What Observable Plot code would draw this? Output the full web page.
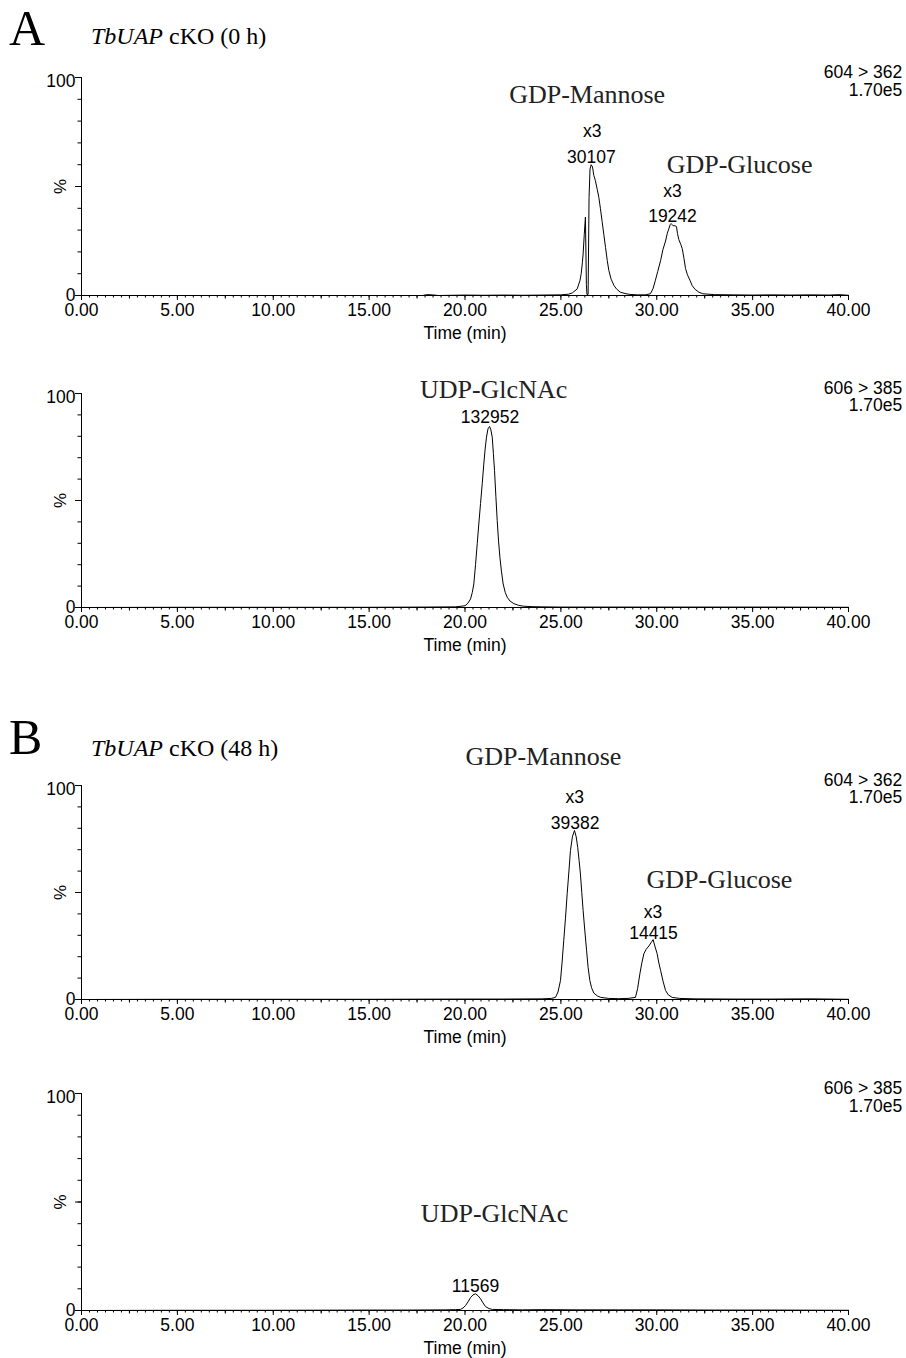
<!DOCTYPE html>
<html><head><meta charset="utf-8">
<script src="https://cdn.jsdelivr.net/npm/d3@7"></script>
<script src="https://cdn.jsdelivr.net/npm/@observablehq/plot@0.6"></script>
<style>
body{margin:0;background:#fff;}
#root{position:relative;width:906px;height:1358px;overflow:hidden;}
.lbl{position:absolute;font-family:"Liberation Serif",serif;color:#000;line-height:1;white-space:nowrap;}
svg{position:absolute;left:0;}
</style></head><body><div id="root"></div>
<script>
// ---------- data ----------
// Panel A, 604 > 362 (0 h)
const timeA1 = [0,5,10,15,17.8,18.0,18.3,18.6,20,21,22,23,24,25,25.4,25.6,25.85,26.0,26.06,26.12,26.16,26.22,26.28,26.33,26.36,26.42,26.47,26.52,26.58,26.65,26.72,26.8,26.9,26.98,27.06,27.15,27.24,27.33,27.42,27.5,27.62,27.77,27.9,28.1,28.4,28.6,29.0,29.4,29.67,29.8,29.93,30.05,30.2,30.32,30.46,30.55,30.63,30.7,30.75,30.8,30.85,30.95,31.03,31.08,31.15,31.25,31.33,31.42,31.5,31.6,31.73,31.85,32.0,32.2,32.4,33,34,35,36,37,38,39,39.5,40];
const pctA1  = [0,0,0,0,0,0.4,0.3,0,0.2,0.1,0.2,0.1,0.2,0.3,0.6,1.2,3,7,10,15,19,28,36,5,0.5,0.5,45,58,60,59,55,52.7,48.5,45,40,34,28,22,16,11.5,7.5,4.6,3,1.5,0.8,0.5,0.3,0.3,0.8,3,7,11,16,21,25,28.5,30.6,32.5,33,32.5,32,32,31.6,28.5,25.7,23.5,21.5,17,12.4,9.5,7,4.5,2.8,1.5,0.8,0.4,0.3,0.2,0.3,0.2,0.3,0.2,0.4,0.1];
// Panel A, 606 > 385 (0 h)
const timeA2 = [0,5,10,15,18,19.5,20.0,20.15,20.29,20.38,20.46,20.55,20.64,20.72,20.81,20.9,20.98,21.05,21.12,21.2,21.28,21.35,21.42,21.48,21.54,21.61,21.68,21.75,21.82,21.9,21.99,22.1,22.2,22.35,22.55,22.8,23.06,23.5,24,25,27,30,33,36,40];
const pctA2  = [0,0.1,0.1,0.1,0.2,0.3,0.8,2,4,7,11,20,30,39,48.6,58,67,74,79.6,83.5,84.6,83,79.6,72,64,52,40.6,31,23.5,17,11,7,4.8,3,1.8,1,0.6,0.4,0.3,0.2,0.2,0.2,0.2,0.2,0.1];
// Panel B, 604 > 362 (48 h)
const timeB1 = [0,5,10,15,20,22,24,24.5,24.72,24.85,24.98,25.06,25.15,25.24,25.33,25.42,25.5,25.6,25.71,25.8,25.88,25.95,26.02,26.09,26.16,26.25,26.34,26.42,26.51,26.6,26.72,26.9,27.07,27.5,28,28.5,28.89,29.0,29.12,29.22,29.33,29.45,29.59,29.7,29.81,29.9,30.02,30.1,30.2,30.33,30.46,30.6,30.8,31.2,32,34,36,38,39,40];
const pctB1  = [0,0.1,0.1,0.1,0.2,0.2,0.3,0.5,1,3.5,8.9,17,27.6,38,49.5,60,69.6,76,79,76,71,65,58.7,50,41.6,32,23,15,8.9,5.5,3,1.7,1,0.5,0.4,0.5,1,5,12,17,21.4,23.5,25,26.5,28,25,21.4,17.5,13.6,8.5,4.2,2.2,1,0.5,0.3,0.2,0.2,0.3,0.2,0.1];
// Panel B, 606 > 385 (48 h)
const timeB2 = [0,5,10,15,17,19,19.5,19.77,19.9,20.03,20.16,20.29,20.42,20.55,20.68,20.81,20.94,21.07,21.25,21.42,22,23,24,26,28,30,33,36,40];
const pctB2  = [0,0.1,0.1,0.2,0.2,0.3,0.4,0.5,1.2,2.3,4,6,7.2,7.7,6.8,5.4,3.5,1.8,0.9,0.5,0.4,0.3,0.4,0.3,0.3,0.3,0.2,0.2,0.1];

// annotation labels (text, time, percent of baseline position, serif?)
const textA1 = ["GDP-Mannose","x3","30107","GDP-Glucose","x3","19242"];
const tA1 = [26.37,26.64,26.59,34.32,30.82,30.82];
const yA1 = [88.1,72.5,60.7,56,45.4,33.6];
const serifA1 = [1,0,0,1,0,0];

const textA2 = ["UDP-GlcNAc","132952"];
const tA2 = [21.49,21.3];
const yA2 = [97.7,86.0];
const serifA2 = [1,0];

const textB1 = ["GDP-Mannose","x3","39382","GDP-Glucose","x3","14415"];
const tB1 = [24.09,25.72,25.74,33.27,29.8,29.83];
const yB1 = [109.8,91.6,79.9,52.3,37.9,28.5];
const serifB1 = [1,0,0,1,0,0];

const textB2 = ["UDP-GlcNAc","11569"];
const tB2 = [21.54,20.55];
const yB2 = [40.6,8.4];
const serifB2 = [1,0];

const channel1 = ["604 > 362","1.70e5"];
const channel2 = ["606 > 385","1.70e5"];
const channelT = [42.8,42.8];
const channelY = [100,91.7];

const majorTicks = [0,5,10,15,20,25,30,35,40];
const yTickLabels = [0,100];
const xLabel = "Time (min)";
const yLabel = "%";

// ---------- drawing ----------
const root = document.getElementById("root");
const sans = "Liberation Sans, Arial, sans-serif";
const serif = "Liberation Serif, Times New Roman, serif";
const minorTicks = d3.range(0,97).map(i => i*5/12);
const midTicks = d3.range(0,8).map(i => 2.5 + i*5);
const yMinor = d3.range(0,11).map(i => i*10);
const yMajor = [0,50,100];

function panel(times, pcts, texts, ts, ys, serifs, channel, y100, y0) {
  const mt = 62, mb = 52;
  const series = times.map((t,i) => ({t, p: pcts[i]}));
  const ann = texts.map((s,i) => ({s, t: ts[i], y: ys[i], serif: serifs[i]}));
  const ch = channel.map((s,i) => ({s, t: channelT[i], y: channelY[i]}));
  const svg = Plot.plot({
    width: 906,
    height: mt + (y0 - y100) + mb,
    marginLeft: 81, marginRight: 58, marginTop: mt, marginBottom: mb,
    style: {background: "transparent", overflow: "visible", fontFamily: sans, color: "black"},
    x: {domain: [0,40], label: null},
    y: {domain: [0,100], label: null},
    marks: [
      Plot.axisX({ticks: minorTicks, tickSize: 2.5, tickFormat: () => "", anchor: "bottom", label: null, stroke: "black"}),
      Plot.axisX({ticks: midTicks, tickSize: 3.5, tickFormat: () => "", anchor: "bottom", label: null, stroke: "black"}),
      Plot.axisX({ticks: majorTicks, tickSize: 5, tickFormat: () => "", anchor: "bottom", label: null, stroke: "black"}),
      Plot.axisY({ticks: yMinor, tickSize: 3.5, tickFormat: () => "", anchor: "left", label: null, stroke: "black"}),
      Plot.axisY({ticks: yMajor, tickSize: 6, tickFormat: () => "", anchor: "left", label: null, stroke: "black"}),
      Plot.ruleY([0], {stroke: "black", strokeWidth: 1}),
      Plot.ruleX([0], {stroke: "black", strokeWidth: 1}),
      Plot.text(majorTicks, {x: d => d, y: 0, text: d => d.toFixed(2), lineAnchor: "top", dy: 8, fontSize: 17.5, fontFamily: sans, fill: "black"}),
      Plot.text(yTickLabels.filter(d => d > 0), {x: 0, y: d => d, text: d => String(d), textAnchor: "end", dx: -6, dy: 4, fontSize: 17.5, fontFamily: sans, fill: "black"}),
      Plot.text(yTickLabels.filter(d => d === 0), {x: 0, y: d => d, text: d => String(d), textAnchor: "end", dx: -6, dy: 0, fontSize: 17.5, fontFamily: sans, fill: "black"}),
      Plot.text([yLabel], {x: 0, y: 50, text: d => d, rotate: -90, dx: -21, fontSize: 17, fontFamily: sans, fill: "black"}),
      Plot.text([xLabel], {frameAnchor: "bottom", text: d => d, lineAnchor: "top", dy: 31, fontSize: 17.5, fontFamily: sans, fill: "black"}),
      Plot.line(series, {x: "t", y: "p", stroke: "black", strokeWidth: 1}),
      Plot.text(ann.filter(d => d.serif), {x: "t", y: "y", text: "s", lineAnchor: "bottom", fontSize: 26, fontFamily: serif, fill: "#222"}),
      Plot.text(ann.filter(d => !d.serif), {x: "t", y: "y", text: "s", lineAnchor: "bottom", fontSize: 17.5, fontFamily: sans, fill: "black"}),
      Plot.text(ch, {x: "t", y: "y", text: "s", lineAnchor: "bottom", textAnchor: "end", fontSize: 17.5, fontFamily: sans, fill: "black"})
    ]
  });
  svg.style.top = (y100 - mt) + "px";
  root.appendChild(svg);
}

function label(html, left, top, size) {
  const d = document.createElement("div");
  d.className = "lbl";
  d.style.left = left + "px"; d.style.top = top + "px"; d.style.fontSize = size + "px";
  d.innerHTML = html;
  root.appendChild(d);
}

label("A", 9, 3, 50);
label("<i>TbUAP</i> cKO (0 h)", 91, 24, 24);
label("B", 9, 712, 50);
label("<i>TbUAP</i> cKO (48 h)", 91, 736, 24);

panel(timeA1, pctA1, textA1, tA1, yA1, serifA1, channel1, 77, 295);
panel(timeA2, pctA2, textA2, tA2, yA2, serifA2, channel2, 393, 607);
panel(timeB1, pctB1, textB1, tB1, yB1, serifB1, channel1, 785, 999);
panel(timeB2, pctB2, textB2, tB2, yB2, serifB2, channel2, 1093, 1310);
</script></body></html>
